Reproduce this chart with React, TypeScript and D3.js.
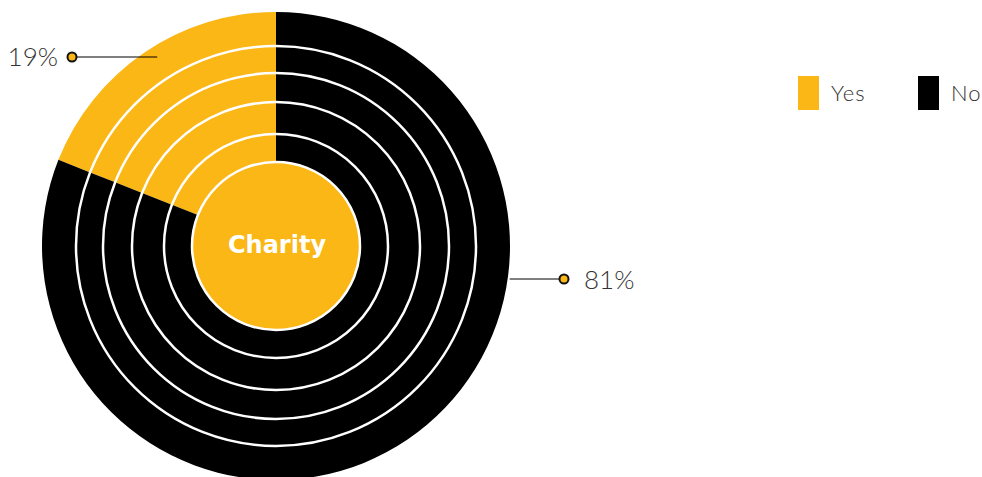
import React from "react";
import * as d3 from "d3";

const categories = ["Yes", "No"];
const values = [19, 81];
const valueLabels = ["19%", "81%"];
const centerLabel = "Charity";
const colors = ["#FBB715", "#000000"];

const W = 982;
const H = 477;
const cx = 276;
const cy = 246;
const ringEdges = [234, 200, 173, 144, 112];
const innerR = 84;

export default function App() {
  const pie = d3
    .pie<number>()
    .sort(null)
    .startAngle(0)
    .endAngle(-2 * Math.PI)
    .value((d) => d);
  const arcs = pie(values);
  const rings = ringEdges.map((outer, i) => ({
    outer,
    inner: i < ringEdges.length - 1 ? ringEdges[i + 1] : innerR,
  }));

  const labelFont = "Lato, 'Open Sans', sans-serif";
  const yesMid = (arcs[0].startAngle + arcs[0].endAngle) / 2;
  const yesAnchor = d3.pointRadial(yesMid, 222);
  const yesY = 57 - cy;
  const noY = 279 - cy;
  const noEdgeX = Math.sqrt(234 * 234 - noY * noY) + 2;

  return (
    <svg
      width={W}
      height={H}
      style={{ position: "absolute", left: 0, top: 0, display: "block" }}
    >
      <rect width={W} height={H} fill="#fff" />
      <g transform={`translate(${cx},${cy})`}>
        {rings.map((r, ri) =>
          arcs.map((a, i) => (
            <path
              key={`${ri}-${i}`}
              d={
                d3
                  .arc<any>()
                  .innerRadius(r.inner)
                  .outerRadius(r.outer)({
                  startAngle: Math.min(a.startAngle, a.endAngle),
                  endAngle: Math.max(a.startAngle, a.endAngle),
                }) as string
              }
              fill={colors[i]}
            />
          ))
        )}
        {ringEdges.slice(1).map((r, i) => (
          <circle key={i} r={r} fill="none" stroke="#fff" strokeWidth={2.5} />
        ))}
        <circle r={innerR} fill={colors[0]} stroke="#fff" strokeWidth={2.5} />
        <text
          x={1}
          y={-2}
          dy="0.36em"
          textAnchor="middle"
          fill="#fff"
          fontFamily="'DejaVu Sans', sans-serif"
          fontWeight={700}
          fontSize={24}
        >
          {centerLabel}
        </text>

        <line
          x1={yesAnchor[0] + 6}
          y1={yesY}
          x2={72 - cx}
          y2={yesY}
          stroke="#000"
          strokeWidth={1}
        />
        <circle cx={72 - cx} cy={yesY} r={4.5} fill={colors[0]} stroke="#111" strokeWidth={2} />
        <text
          x={58 - cx}
          y={yesY}
          dy="0.36em"
          textAnchor="end"
          fill="#333"
          fontFamily={labelFont}
          fontWeight={300}
          fontSize={26}
        >
          {valueLabels[0]}
        </text>

        <line x1={noEdgeX} y1={noY} x2={564 - cx} y2={noY} stroke="#000" strokeWidth={1} />
        <circle cx={564 - cx} cy={noY} r={4.5} fill={colors[0]} stroke="#111" strokeWidth={2} />
        <text
          x={584 - cx}
          y={noY + 1}
          dy="0.36em"
          textAnchor="start"
          fill="#333"
          fontFamily={labelFont}
          fontWeight={300}
          fontSize={26}
        >
          {valueLabels[1]}
        </text>
      </g>

      {categories.map((c, i) => (
        <g key={c} transform={`translate(${798 + i * 120},76)`}>
          <rect width={21} height={34} fill={colors[i]} />
          <text
            x={33}
            y={17}
            dy="0.35em"
            fill="#333"
            fontFamily={labelFont}
            fontWeight={300}
            fontSize={22}
            letterSpacing={1}
          >
            {c}
          </text>
        </g>
      ))}
    </svg>
  );
}
